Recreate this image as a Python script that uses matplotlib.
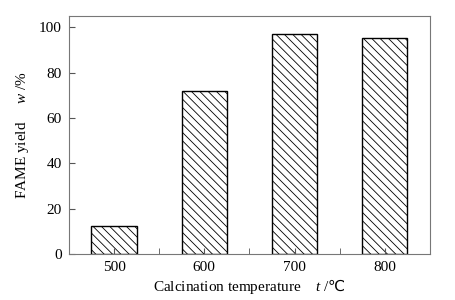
import numpy as np
import matplotlib
matplotlib.use('Agg')
import matplotlib.pyplot as plt

plt.rcParams['font.family'] = ['Liberation Serif', 'DejaVu Serif', 'DejaVu Sans']
plt.rcParams['mathtext.fontset'] = 'custom'
plt.rcParams['mathtext.it'] = 'Liberation Serif:italic'
plt.rcParams['mathtext.rm'] = 'Liberation Serif'
plt.rcParams['mathtext.sf'] = 'DejaVu Sans'
plt.rcParams['hatch.linewidth'] = 0.6

temps = [500, 600, 700, 800]
yields = [12.3, 72.1, 96.9, 95.3]

fig = plt.figure(figsize=(4.56, 3.0), dpi=100)
ax = fig.add_axes([0.151, 0.153, 0.792, 0.794])

ax.bar(temps, yields, width=50, color='white', edgecolor='black',
       linewidth=1.0, hatch='\\\\\\\\')

ax.set_xlim(450, 850)
ax.set_ylim(0, 105)
ax.set_xticks(temps)
ax.set_xticks([550, 650, 750], minor=True)
ax.set_yticks([0, 20, 40, 60, 80, 100])
ax.tick_params(direction='in', labelsize=11, length=4, color='#555555', pad=5)
ax.tick_params(which='minor', direction='in', length=4, color='#555555')
for s in ax.spines.values():
    s.set_color('#777777')
    s.set_linewidth(0.8)

ax.set_xlabel('Calcination temperature    $\\it{t}$ /$\\mathsf{\u2103}$', fontsize=11, labelpad=2)
ax.set_ylabel('FAME yield     $\\it{w}$ /%', fontsize=11, labelpad=6)

fig.savefig('out.png', dpi=100)
